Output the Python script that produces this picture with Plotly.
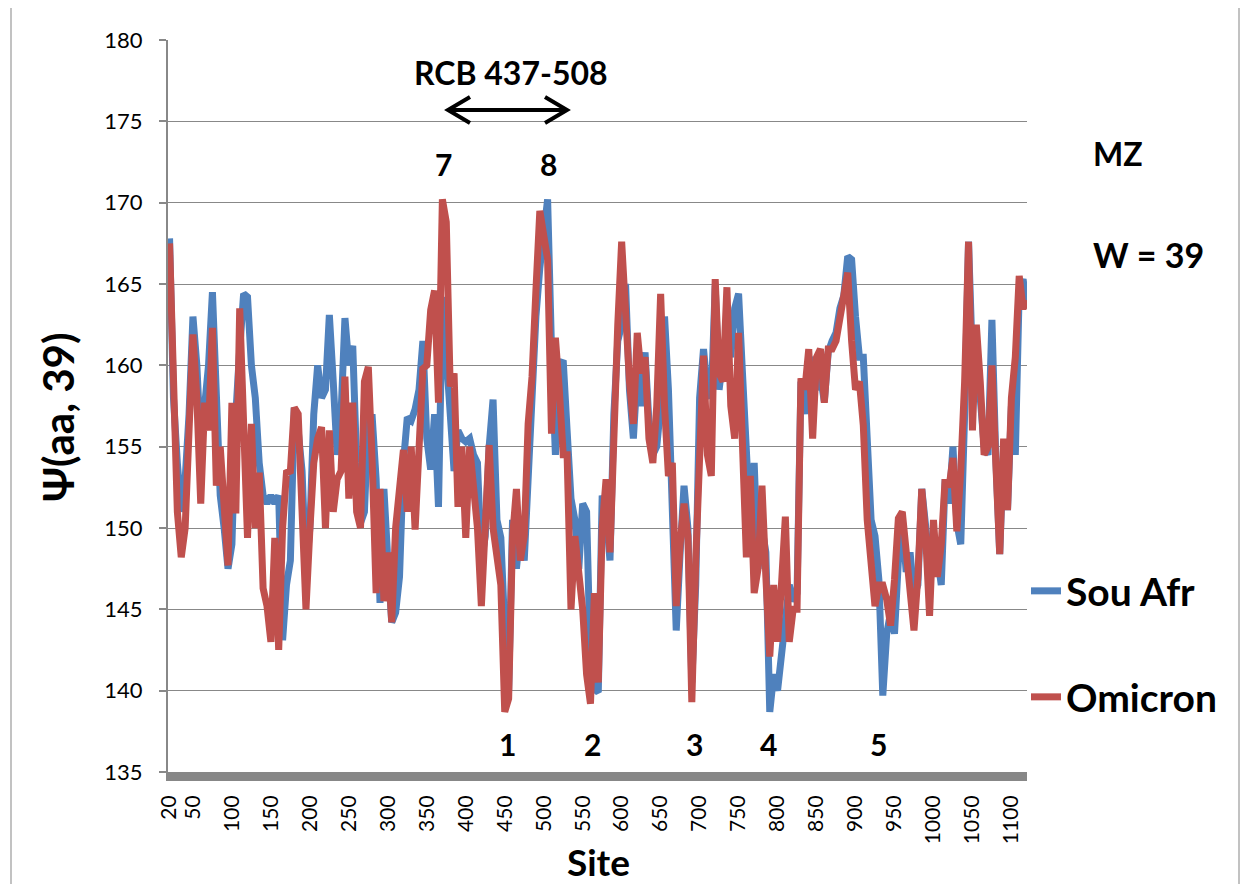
import plotly.graph_objects as go

# ---------------- data ----------------
sites = list(range(20, 1121, 5))

sou_afr = [
    167.8, 158, 154, 151, 153, 157, 163, 160, 155, 158,
    160, 164.5, 158, 152, 150, 147.5, 149, 157, 161, 164.4,
    164.2, 160, 158, 154, 152, 151.5, 152, 151.5, 152, 143.1,
    146.5, 148, 157.4, 156, 153.5, 147.3, 150, 157, 160, 158,
    158.5, 163.1, 159, 154.5, 157, 162.9, 160, 161.2, 154, 150.3,
    151, 156.8, 156.8, 153, 145.4, 152.4, 148, 144.2, 144.8, 147,
    154, 156.8, 156.6, 157.3, 158.5, 161.5, 155.5, 153.6, 157, 151.3,
    164.2, 161, 156.5, 153.5, 156, 155.5, 155.3, 155.5, 154.5, 154,
    148, 149.5, 155, 157.9, 150.5, 149.4, 143.8, 140, 150.5, 147.5,
    150, 148, 153, 158.7, 163, 166, 168.7, 170.2, 161, 154.5,
    160, 160.3, 156, 151.8, 150.5, 147.5, 151.5, 151, 141.5, 140.1,
    139.9, 152, 151, 148, 157, 161.5, 162.5, 165, 158.5, 155.5,
    159.5, 157.5, 160.8, 156.5, 154.5, 155, 157.5, 163, 158.5, 152,
    143.7, 148.5, 152.6, 150, 140.5, 146.5, 158, 161, 158.5, 158,
    164.9, 158.5, 160.5, 161.5, 160.5, 163.5, 164.4, 159.5, 153.5, 150,
    154, 147.5, 150, 148.5, 138.7, 141, 140, 142, 144.5, 146.5,
    145.5, 146, 159, 157, 160.5, 160.2, 158.5, 159.3, 157.8, 160.8,
    161.5, 162, 163.5, 164.3, 166.7, 166.5, 163, 160.5, 160.5, 155.5,
    150.5, 149.5, 146.8, 139.7, 143.5, 144.8, 143.5, 148, 150.5, 147.3,
    148.5, 145.8, 146.5, 152.4, 150, 147.8, 148.5, 148.3, 146.5, 153,
    151.5, 155, 150.3, 149, 157, 167.6, 160.2, 161.5, 158, 155,
    154.5, 162.8, 154.3, 148.4, 155, 151.1, 157.5, 154.5, 164.6, 165.3,
    163.5,
]

omicron = [
    167.5, 160, 151, 148.2, 150, 156, 161.9, 158, 151.5, 157.7,
    156, 162.3, 152.6, 155, 152, 147.7, 157.7, 150.9, 163.5, 157,
    149.4, 156.4, 150, 153.4, 146.3, 145.2, 143, 149.4, 142.5, 150,
    153.4, 153.5, 157.4, 157, 150, 145, 149.9, 154, 155.5, 156.2,
    150, 156, 151, 153, 153.5, 159.3, 151.8, 157.7, 151, 150,
    159, 159.9, 154, 146, 152.4, 145.5, 148.5, 144.2, 150, 153,
    154.8, 151, 155, 149.9, 155.5, 159.8, 160, 163.4, 164.6, 157.7,
    170.2, 168.8, 158.7, 159.5, 151.3, 155, 149.4, 155, 152.5, 150,
    145.2, 150, 155.1, 150, 148.5, 146.5, 138.7, 139.5, 149.4, 152.4,
    148, 149.5, 156.4, 159.3, 164.6, 169.5, 168, 166.5, 155.8, 161.7,
    158.5, 154.5, 154.5, 145, 149.5, 147, 145, 141, 139.2, 146,
    140.5, 150, 153, 148.5, 157.5, 162.5, 167.6, 162.5, 159, 156.4,
    162, 159.5, 160.5, 155.5, 154, 157.5, 164.4, 157.5, 153.2, 154,
    145.2, 149, 151.5, 149.5, 139.3, 148, 155, 160.6, 154.5, 153.2,
    165.3, 159.5, 159, 164.8, 157.5, 155.5, 162, 155, 148.2, 153.2,
    146, 147.5, 152.6, 147, 142.1, 146.5, 143, 146.5, 150.7, 143,
    145, 145, 159.2, 158.5, 161, 155.5, 160.5, 161, 157.7, 161,
    161, 161.5, 162.8, 164.3, 165.7, 161.5, 158.5, 159, 156.3, 150.5,
    148, 145.2, 146.5, 146.5, 145.6, 144, 146.8, 150.6, 151, 148.5,
    145.6, 143.7, 147, 152.4, 149.5, 144.6, 150.5, 147, 149, 153,
    152.5, 154.3, 149.8, 153.5, 159, 167.6, 156, 162.5, 159, 154.5,
    155, 160, 154, 148.4, 155.5, 151.1, 158, 160.5, 165.5, 163.5,
    164,
]

assert len(sites) == len(sou_afr) == len(omicron)

y_ticks = [135, 140, 145, 150, 155, 160, 165, 170, 175, 180]
x_ticks = [20, 50, 100, 150, 200, 250, 300, 350, 400, 450, 500, 550,
           600, 650, 700, 750, 800, 850, 900, 950, 1000, 1050, 1100]
x_tick_labels = [str(v) for v in x_ticks]

# numbered minima / maxima labels: (text, site, value)
point_labels = [("7", 371, 172.4), ("8", 506, 172.4),
                ("1", 453, 136.7), ("2", 563, 136.7), ("3", 694, 136.7),
                ("4", 788, 136.7), ("5", 930, 136.7)]

# ---------------- layout helpers ----------------
OFF = 8                      # page body margin
W, H = 1232, 876             # figure size (fits the window with body margin)
ML, MT = 168 - OFF, 40 - OFF
PR, PB = 1027 - OFF, 772 - OFF   # plot right / bottom in figure px
MR, MB = W - PR, H - PB
PW, PH = PR - ML, PB - MT


def px(xw):
    """window x pixel -> paper x"""
    return (xw - OFF - ML) / PW


def py(yw):
    """window y pixel -> paper y"""
    return (PB - (yw - OFF)) / PH


FONT = "Lato"
BLUE = "#4F81BD"
RED = "#C0504D"
GRID = "#888888"
LW = 7

fig = go.Figure()
fig.add_trace(go.Scatter(x=sites, y=sou_afr, mode="lines", name="Sou Afr",
                         line=dict(color=BLUE, width=LW), legend="legend"))
fig.add_trace(go.Scatter(x=sites, y=omicron, mode="lines", name="Omicron",
                         line=dict(color=RED, width=LW), legend="legend2"))


def bold(size):
    return dict(family=FONT, size=size, color="black", weight="bold")


annotations = []
for txt, s, v in point_labels:
    annotations.append(dict(x=s, y=v, xref="x", yref="y", text=txt, showarrow=False,
                            xanchor="center", yanchor="middle", font=bold(30)))


def paper_text(xw, yw, txt, size, angle=0, xanchor="center"):
    return dict(x=px(xw), y=py(yw), xref="paper", yref="paper", text=txt,
                showarrow=False, xanchor=xanchor, yanchor="middle",
                textangle=angle, font=bold(size))


annotations += [
    paper_text(511, 72, "RCB 437-508", 32),
    paper_text(1091, 154, "MZ", 32, xanchor="left"),
    paper_text(1091, 254, "W = 39", 34, xanchor="left"),
    paper_text(598, 861, "Site", 37),
    paper_text(58, 417, "Ψ(aa, 39)", 42, angle=-90),
]

shapes = [
    # chart-area border
    dict(type="rect", xref="paper", yref="paper", x0=px(11), x1=px(1239),
         y0=py(900), y1=py(7), line=dict(color="#9a9a9a", width=1.2), layer="below"),
    # double arrow
    dict(type="path", xref="paper", yref="paper",
         path=f"M{px(449)},{py(110)} L{px(566)},{py(110)}",
         line=dict(color="black", width=4)),
    dict(type="path", xref="paper", yref="paper",
         path=f"M{px(470)},{py(97)} L{px(448)},{py(110)} L{px(470)},{py(123)}",
         line=dict(color="black", width=4)),
    dict(type="path", xref="paper", yref="paper",
         path=f"M{px(545)},{py(97)} L{px(567)},{py(110)} L{px(545)},{py(123)}",
         line=dict(color="black", width=4)),
]

leg_common = dict(xanchor="left", yanchor="middle", bgcolor="rgba(0,0,0,0)",
                  borderwidth=0, font=bold(39))

fig.update_layout(
    width=W, height=H,
    margin=dict(l=ML, r=MR, t=MT, b=MB, pad=0),
    paper_bgcolor="white", plot_bgcolor="white",
    font=dict(family=FONT, color="black"),
    showlegend=True,
    legend=dict(x=px(1026), y=py(591), **leg_common),
    legend2=dict(x=px(1026), y=py(697), **leg_common),
    annotations=annotations,
    shapes=shapes,
    xaxis=dict(range=[18, 1120], tickmode="array", tickvals=x_ticks,
               ticktext=x_tick_labels, tickangle=-90, ticks="",
               showgrid=False, zeroline=False, showline=True,
               linecolor="#878787", linewidth=9, ticklabelstandoff=6,
               tickfont=dict(family=FONT, size=21, color="black")),
    yaxis=dict(range=[135, 180], tickmode="array", tickvals=y_ticks,
               ticks="outside", ticklen=7, tickwidth=1.5, tickcolor=GRID,
               showgrid=True, gridcolor=GRID, gridwidth=1.4, zeroline=False,
               showline=True, linecolor=GRID, linewidth=2,
               ticklabelstandoff=12,
               tickfont=dict(family=FONT, size=22, color="black")),
)

fig.write_html("out.html")
